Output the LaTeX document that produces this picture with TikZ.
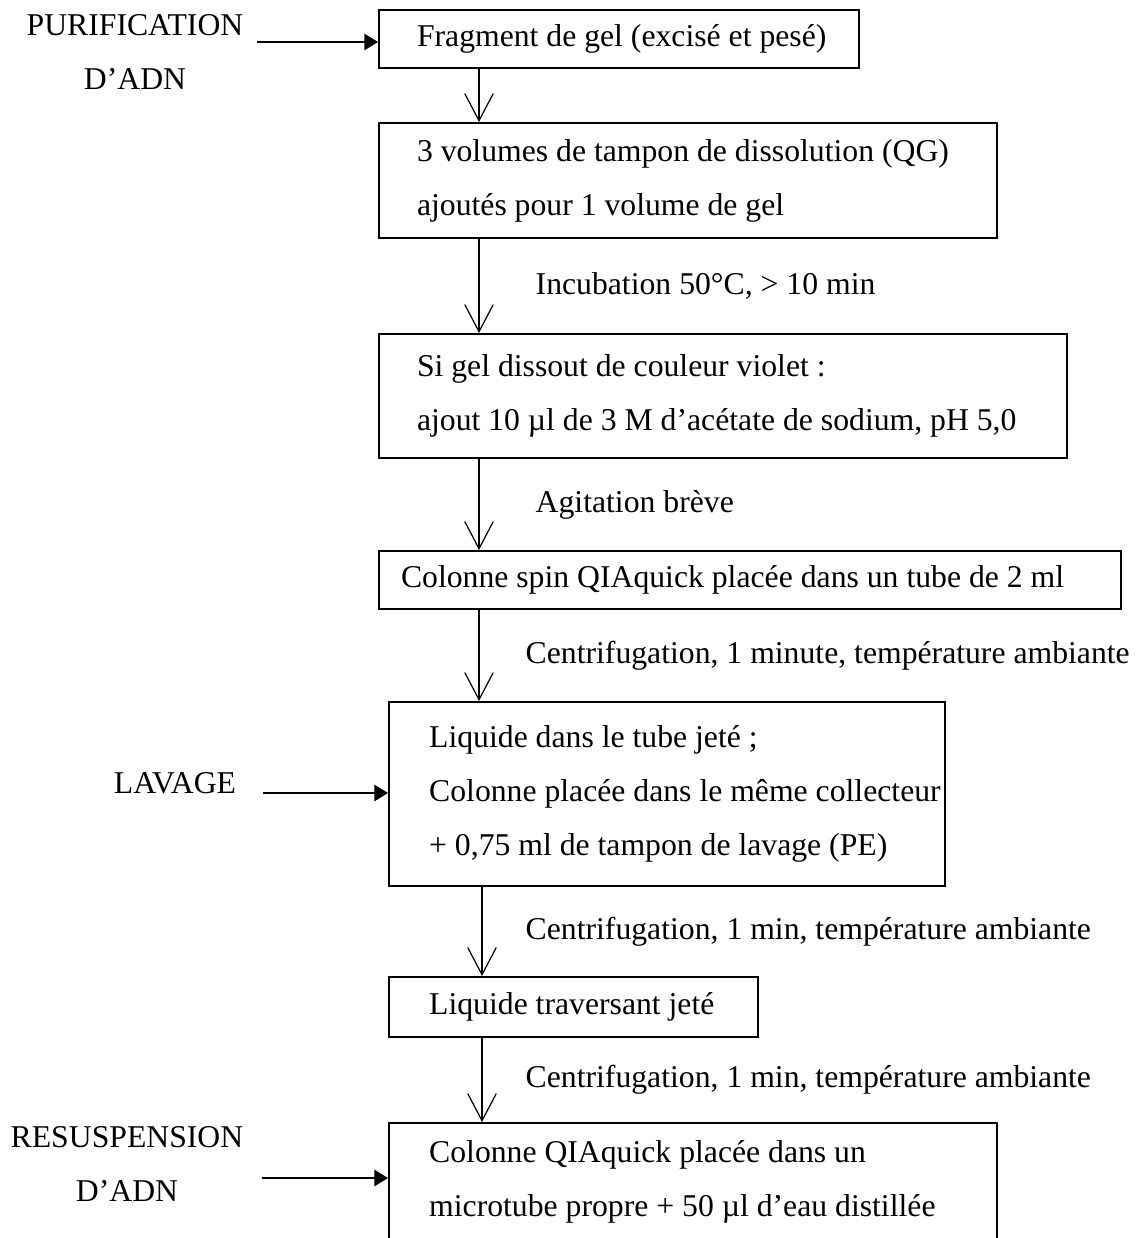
\documentclass[tikz,border=0pt]{standalone}
\usepackage{fontspec}
\setmainfont{Liberation Serif}
\usetikzlibrary{arrows.meta}

\newcommand{\boxfont}{\fontsize{11.7}{20}\selectfont}

\tikzset{
    stepbox/.style n args={3}{draw, line width=0.8pt, anchor=north west, align=left,
        inner xsep=0pt, inner ysep=0pt, text width=#1, minimum height=#2,
        execute at begin node={\leftskip=#3\relax\rightskip=-6pt plus 1fil\relax
            \parfillskip=0pt plus 1fil\relax\spaceskip=0pt\relax\hyphenpenalty=10000\relax},
        font=\boxfont},
    sidelabel/.style={align=center, inner sep=0pt, font=\boxfont},
    steplabel/.style={anchor=west, inner sep=0pt, font=\boxfont},
    flow/.style={-{Straight Barb[length=10pt, width=10.5pt]}, line width=0.45pt},
    feed/.style={-{Triangle[length=5pt, width=6pt]}, line width=0.6pt}
}

\begin{document}
\begin{tikzpicture}[x=0.369pt, y=-0.369pt]
    \useasboundingbox (0,0) rectangle (1148,1238);
    \clip (0,0) rectangle (1148,1238);

    % etapes du protocole
    \node[stepbox={177.1pt}{21.4pt}{14pt}] (frag) at (378,9) {Fragment de gel (excisé et pesé)};
    \node[stepbox={228.0pt}{42.4pt}{14pt}] (qg) at (378,122) {3 volumes de tampon de dissolution (QG)\\ajoutés pour 1 volume de gel};
    \node[stepbox={253.9pt}{45.8pt}{14pt}] (violet) at (378,333) {Si gel dissout de couleur violet :\\ajout 10 µl de 3 M d’acétate de sodium, pH 5,0};
    \node[stepbox={273.8pt}{21.4pt}{8.1pt}] (spin) at (378,550) {Colonne spin QIAquick placée dans un tube de 2 ml};
    \node[stepbox={205.2pt}{67.9pt}{14.8pt}] (lav) at (388,701) {Liquide dans le tube jeté ;\\Colonne placée dans le même collecteur\\+ 0,75 ml de tampon de lavage (PE)};
    \node[stepbox={136.2pt}{22.1pt}{14.8pt}] (jete) at (388,976) {Liquide traversant jeté};
    \node[stepbox={224.4pt}{43.5pt}{14.8pt}] (elu) at (388,1122) {Colonne QIAquick placée dans un\\microtube propre + 50 µl d’eau distillée};

    % phases
    \node[sidelabel] (purif) at (135,52) {PURIFICATION\\D’ADN};
    \node[sidelabel] (lavage) at (175,783) {LAVAGE};
    \node[sidelabel] (resus) at (127,1164) {RESUSPENSION\\D’ADN};

    \coordinate (inPurif) at (257,42);
    \coordinate (inLavage) at (263,793);
    \coordinate (inResus) at (262,1178);
    \draw[feed] (inPurif) -- (frag.west |- inPurif);
    \draw[feed] (inLavage) -- (lav.west |- inLavage);
    \draw[feed] (inResus) -- (elu.west |- inResus);

    % fleches verticales
    \coordinate (colA) at (479,0);
    \coordinate (colB) at (482,0);
    \draw[flow] (frag.south -| colA) -- (qg.north -| colA);
    \draw[flow] (qg.south -| colA) -- node[steplabel, xshift=20.7pt] (incub) {Incubation 50°C, > 10 min} (violet.north -| colA);
    \draw[flow] (violet.south -| colA) -- node[steplabel, xshift=20.7pt] (agit) {Agitation brève} (spin.north -| colA);
    \draw[flow] (spin.south -| colA) -- node[steplabel, xshift=17pt] (centA) {Centrifugation, 1 minute, température ambiante} (lav.north -| colA);
    \draw[flow] (lav.south -| colB) -- node[steplabel, xshift=15.9pt] (centB) {Centrifugation, 1 min, température ambiante} (jete.north -| colB);
    \draw[flow] (jete.south -| colB) -- node[steplabel, xshift=15.9pt] (centC) {Centrifugation, 1 min, température ambiante} (elu.north -| colB);
\end{tikzpicture}
\end{document}
